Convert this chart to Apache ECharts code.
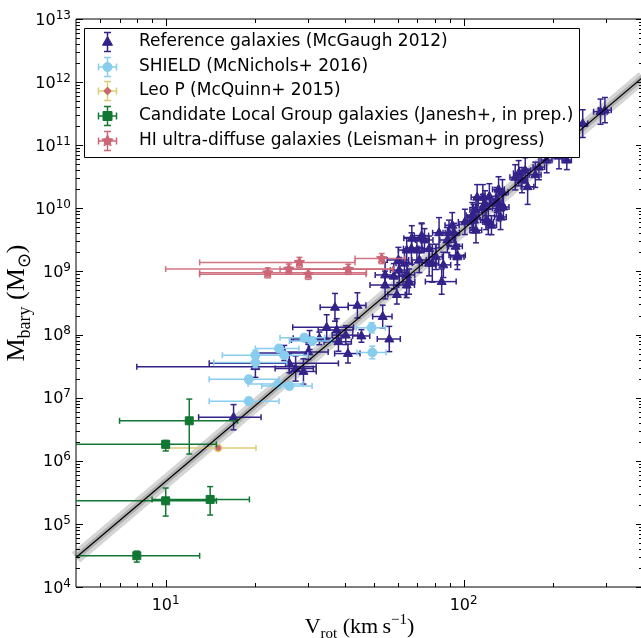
<!DOCTYPE html>
<html><head><meta charset="utf-8">
<script src="https://cdn.jsdelivr.net/npm/echarts@6/dist/echarts.min.js"></script>
<style>html,body{margin:0;padding:0;background:#fff}#c{width:641px;height:638px}</style>
</head><body><div id="c"></div>
<script>
// ---------- DATA ----------
// Reference galaxies (McGaugh 2012): Vrot, Mbary, +/- Vrot error (km/s), +/- log Mbary error (dex)
const refV  = [16.9,20,26,27.3,29,30.1,34.7,37.5,40.2,38.0,40.9,37.0,44.0,53.5,45.4,56.3,54.5,59.7,64.4,65.6,
               60.4,66.8,72.3,73.9,76.6,82.7,78.5,84.4,88.2,95.3,92.9,107,110,118,129,136,107,119,124,164,
               298,288,251,222,209,190,179,174,161,153,157,149,131,122,116,111,135,129,116,108,
               110,121,131,133,101,91.6,89.3,94,72.3,67,64.4,69.7,80.8,85.5,63.3,71,60.8,64.5,58.3,54.5,
               95.3,76.6,30.4,32.8,25];
const refM  = [4.9e6,3.1e7,3.5e7,2.9e7,2.6e7,5.3e7,1.3e8,1.18e8,9.8e7,7.7e7,5.0e7,2.7e8,2.9e8,1.93e8,9.5e7,8.5e7,6.1e8,4.3e8,6.1e8,6.9e8,
               1.52e9,2.3e9,3.35e9,3.15e9,2.3e9,4.1e9,1.35e9,6.9e8,3.15e9,1.8e9,4.1e9,7.8e9,9.4e9,1.2e10,1.35e10,1.05e10,6.5e9,6.5e9,5.4e9,2.2e10,
               3.6e11,3.4e11,2.2e11,5.8e10,6.7e10,5.8e10,4.5e10,3.4e10,4.0e10,3.6e10,2.8e10,3.1e10,2.0e10,1.55e10,1.5e10,1.5e10,1.8e10,1.2e10,1.05e10,7.3e9,
               4.5e9,6.1e9,1.0e10,7.3e9,6.1e9,5.4e9,4.1e9,2.5e9,3.7e9,3.35e9,2.18e9,2.18e9,1.7e9,1.27e9,1.35e9,1.52e9,1.05e9,8.8e8,8.4e8,8.8e8,
               1.7e9,1.35e9,8.2e7,8.7e7,5.1e7];
const refEV = [4,12,12,4,3,5,8,5,4,4,4,4,3,4,3,5,6,4,4,3,
               5,4,4,5,4,4,4,10,5,6,4,5,5,6,6,6,4,5,5,8,
               15,15,10,8,8,8,8,8,7,6,6,6,6,6,5,5,6,6,5,5,
               5,5,6,6,5,5,4,5,4,4,4,4,4,5,4,4,4,4,4,4,
               5,4,4,6,5];
const refEM = [0.2,0.17,0.15,0.2,0.2,0.12,0.2,0.18,0.15,0.15,0.15,0.22,0.2,0.18,0.1,0.2,0.22,0.15,0.2,0.2,
               0.2,0.25,0.23,0.18,0.2,0.24,0.3,0.2,0.2,0.15,0.15,0.2,0.2,0.2,0.2,0.2,0.2,0.15,0.15,0.28,
               0.2,0.2,0.22,0.15,0.2,0.2,0.2,0.2,0.2,0.2,0.2,0.2,0.2,0.2,0.2,0.2,0.2,0.2,0.2,0.2,
               0.2,0.2,0.2,0.2,0.2,0.2,0.2,0.2,0.2,0.2,0.2,0.2,0.2,0.2,0.2,0.2,0.2,0.2,0.2,0.2,
               0.2,0.2,0.15,0.1,0.12];
// SHIELD (McNichols+ 2016)
const shV  = [19.0,19.0,23.9,26.0,20.0,20.0,24.0,25.0,29.2,31.0,49.1,49.4];
const shM  = [8.8e6,1.95e7,1.64e7,1.53e7,4.7e7,3.6e7,6.0e7,4.7e7,8.9e7,7.9e7,1.28e8,5.2e7];
const shEV = [5,5,5,5,4.5,5.5,4,5,5,5,5.5,5.5];
const shEM = [0.06,0.06,0.05,0.05,0.08,0.08,0.05,0.05,0.06,0.06,0.08,0.1];
// Leo P (McQuinn+ 2015)
const leoV = [15.0], leoM = [1.59e6], leoVlo = [10.2], leoVhi = [20.1], leoMlo = [1.45e6], leoMhi = [1.75e6];
// Candidate Local Group galaxies (Janesh+, in prep.)
const lgV   = [12.0,10,10,14.1,8.0];
const lgM   = [4.3e6,1.82e6,2.32e5,2.44e5,3.13e4];
const lgVlo = [7.0,3.0,3.5,9.0,3.0];
const lgVhi = [17.4,14.8,14.8,19.1,13.0];
const lgMlo = [1.28e6,1.43e6,1.33e5,1.38e5,2.48e4];
const lgMhi = [9.5e6,2.1e6,3.7e5,3.9e5,3.7e4];
// HI ultra-diffuse galaxies (Leisman+ in progress)
const udgV   = [28.1,25.9,22.0,30.1,41.0,53.1];
const udgM   = [1.39e9,1.09e9,9.5e8,9.0e8,1.08e9,1.6e9];
const udgVlo = [13.0,10.0,13.0,13.0,24.2,43.2];
const udgVhi = [43.2,57.9,47.2,47.0,57.9,63.5];
const udgEM  = [0.08,0.08,0.08,0.08,0.08,0.08];
// Baryonic Tully-Fisher fit line end points
const fitV = [5, 400];
const fitM = [2.94e4, 1.2e12];
// Axis ticks
const xMajor = [10, 100];
const xMinor = [6,7,8,9,20,30,40,50,60,70,80,90,200,300,400];
const yDecades = [4,5,6,7,8,9,10,11,12,13];
const legendLabels = ['Reference galaxies (McGaugh 2012)','SHIELD (McNichols+ 2016)','Leo P (McQuinn+ 2015)',
  'Candidate Local Group galaxies (Janesh+, in prep.)','HI ultra-diffuse galaxies (Leisman+ in progress)'];

// ---------- helpers ----------
const C_REF='#332288', C_SH='#88CCEE', C_LEO_E='#DDCC77', C_LEO_M='#CC6677', C_LG='#117733', C_UDG='#CC6677';

function markerEl(kind, x, y, s, fill, stroke, lw) {
  const st = {fill: fill, stroke: stroke, lineWidth: lw};
  if (kind === 'tri') return {type:'polygon', shape:{points:[[x,y-s*1.1],[x-s,y+s*0.65],[x+s,y+s*0.65]]}, style:st};
  if (kind === 'circle') return {type:'circle', shape:{cx:x,cy:y,r:s}, style:st};
  if (kind === 'square') return {type:'rect', shape:{x:x-s,y:y-s,width:2*s,height:2*s}, style:st};
  if (kind === 'star') {
    const pts = [];
    for (let i = 0; i < 10; i++) {
      const a = -Math.PI/2 + i*Math.PI/5, r = (i % 2) ? s*0.5 : s;
      pts.push([x + r*Math.cos(a), y + r*Math.sin(a)]);
    }
    return {type:'polygon', shape:{points:pts}, style:st};
  }
  if (kind === 'diamond') return {type:'polygon', shape:{points:[[x,y-s],[x+s,y],[x,y+s],[x-s,y]]}, style:st};
}
function errEls(cx, cy, x0, x1, y0, y1, color, lw, cap, op) {
  const L = (a,b,c,d) => ({type:'line', shape:{x1:a,y1:b,x2:c,y2:d}, style:{stroke:color, lineWidth:lw, opacity:op}});
  const out = [];
  if (x0 != null) {
    out.push(L(x0,cy,x1,cy), L(x0,cy-cap,x0,cy+cap), L(x1,cy-cap,x1,cy+cap));
  }
  out.push(L(cx,y0,cx,y1), L(cx-cap,y0,cx+cap,y0), L(cx-cap,y1,cx+cap,y1));
  return out;
}
function makeRender(st) {
  return function(params, api) {
    const c = api.coord([api.value(0), api.value(1)]);
    const xl = api.coord([api.value(2), api.value(1)])[0];
    const xh = api.coord([api.value(3), api.value(1)])[0];
    const yl = api.coord([api.value(0), api.value(4)])[1];
    const yh = api.coord([api.value(0), api.value(5)])[1];
    const ch = errEls(c[0], c[1], xl, xh, yl, yh, st.ecolor, st.lw, st.cap, st.op);
    ch.push(markerEl(st.marker, c[0], c[1], st.size, st.fill, st.stroke, st.mlw));
    return {type:'group', children: ch};
  };
}
function errSeries(name, data, st, z) {
  return {type:'custom', name:name, coordinateSystem:'cartesian2d', clip:true, z:z, silent:true,
          dimensions:['v','m','vlo','vhi','mlo','mhi'], encode:{x:0, y:1},
          renderItem: makeRender(st), data: data};
}
const dex = (m, e, s) => m * Math.pow(10, s*e);

const refData = refV.map((v,i)=>[v, refM[i], v-refEV[i], v+refEV[i], dex(refM[i],refEM[i],-1), dex(refM[i],refEM[i],1)]);
const shData  = shV.map((v,i)=>[v, shM[i], v-shEV[i], v+shEV[i], dex(shM[i],shEM[i],-1), dex(shM[i],shEM[i],1)]);
const leoData = leoV.map((v,i)=>[v, leoM[i], leoVlo[i], leoVhi[i], leoMlo[i], leoMhi[i]]);
const lgData  = lgV.map((v,i)=>[v, lgM[i], lgVlo[i], lgVhi[i], lgMlo[i], lgMhi[i]]);
const udgData = udgV.map((v,i)=>[v, udgM[i], udgVlo[i], udgVhi[i], dex(udgM[i],udgEM[i],-1), dex(udgM[i],udgEM[i],1)]);
const fitData = fitV.map((v,i)=>[v, fitM[i]]);

const xTickData = xMajor.map(v=>[v, 1e8, 1]).concat(xMinor.map(v=>[v, 1e8, 0]));
const yTickData = [];
yDecades.forEach(d => {
  yTickData.push([10, Math.pow(10,d), 1]);
  if (d < 13) for (let k = 2; k <= 9; k++) yTickData.push([10, k*Math.pow(10,d), 0]);
});

function tickSeries(data, axis) {
  return {type:'custom', coordinateSystem:'cartesian2d', clip:false, z:20, silent:true, encode:{x:0,y:1},
    renderItem: function(params, api) {
      const cs = params.coordSys;
      const len = api.value(2) ? 7 : 4;
      const S = {stroke:'#000', lineWidth:1};
      if (axis === 'x') {
        const x = Math.round(api.coord([api.value(0), 1e8])[0]) + 0.5;
        return {type:'group', children:[
          {type:'line', shape:{x1:x, y1:cs.y+cs.height, x2:x, y2:cs.y+cs.height-len}, style:S},
          {type:'line', shape:{x1:x, y1:cs.y, x2:x, y2:cs.y+len}, style:S}]};
      } else {
        const y = Math.round(api.coord([10, api.value(1)])[1]) + 0.5;
        return {type:'group', children:[
          {type:'line', shape:{x1:cs.x, y1:y, x2:cs.x+len, y2:y}, style:S},
          {type:'line', shape:{x1:cs.x+cs.width, y1:y, x2:cs.x+cs.width-len, y2:y}, style:S}]};
      }
    }, data: data};
}

function powLabel(v) {
  const l = Math.log10(v), e = Math.round(l);
  if (Math.abs(l - e) > 1e-6) return '';
  return '{b|10}{s|' + e + '}';
}
const labRich = {
  b: {fontSize: 16, fontFamily: 'DejaVu Sans', color: '#000', lineHeight: 19, verticalAlign: 'bottom'},
  s: {fontSize: 12, fontFamily: 'DejaVu Sans', color: '#000', verticalAlign: 'top'}
};
const serif = 'Liberation Serif';
function nameRichOf(big, small) {
  return {
    a: {fontSize: big, fontFamily: serif, color:'#000', lineHeight: big*1.3, verticalAlign:'middle'},
    sub: {fontSize: small, fontFamily: serif, color:'#000', verticalAlign:'bottom'},
    sup: {fontSize: small, fontFamily: serif, color:'#000', verticalAlign:'top'}
  };
}

// ---------- legend (graphic) ----------
const legRows = [42, 67, 91, 116, 141];
const legX = 107.5, legTx = 139;
const legendEls = [{type:'rect', shape:{x:84.5, y:28.5, width:495, height:129}, style:{fill:'#fff', stroke:'#000', lineWidth:1}, z:100}];
const legStyles = [
  {kind:'tri', ec:C_REF, fill:C_REF, stroke:C_REF, h:false, s:5},
  {kind:'circle', ec:C_SH, fill:C_SH, stroke:C_SH, h:true, s:4.5},
  {kind:'diamond', ec:C_LEO_E, fill:C_LEO_M, stroke:C_LEO_E, h:true, s:4.5},
  {kind:'square', ec:C_LG, fill:C_LG, stroke:C_LG, h:true, s:4.5},
  {kind:'star', ec:C_UDG, fill:C_UDG, stroke:C_UDG, h:true, s:6}
];
legStyles.forEach((st, i) => {
  const y = legRows[i];
  const els = errEls(legX, y, st.h ? legX-9 : null, legX+9, y-9.5, y+9.5, st.ec, 1.5, 3.5, 1);
  els.push(markerEl(st.kind, legX, y, st.s, st.fill, st.stroke, 1));
  els.forEach(e => { e.z = 101; legendEls.push(e); });
  legendEls.push({type:'text', z:101, style:{text: legendLabels[i], x: legTx, y: y, fontSize: 17,
    fontFamily: 'DejaVu Sans', fill:'#000', verticalAlign:'middle', align:'left'}});
});

const chart = echarts.init(document.getElementById('c'), null, {renderer:'canvas'});
chart.setOption({
  animation: false,
  backgroundColor: '#fff',
  grid: {left: 76, top: 19, width: 567, height: 568, show: true, borderColor: '#000', borderWidth: 1,
         containLabel:false, outerBoundsMode:'none'},
  xAxis: {type:'log', logBase:10, min:5, max:400,
    axisLine:{show:false}, axisTick:{show:false}, splitLine:{show:false},
    axisLabel:{formatter: powLabel, rich: labRich, margin: 8},
    name: '{a|V}{sub|rot}{a| (km\u2009s}{sup|\u22121}{a|)}', nameLocation:'middle', nameGap: 26, nameMoveOverlap: false,
    nameTextStyle:{rich: nameRichOf(22, 15)}},
  yAxis: {type:'log', logBase:10, min:1e4, max:1e13,
    axisLine:{show:false}, axisTick:{show:false}, splitLine:{show:false},
    axisLabel:{formatter: powLabel, rich: labRich, margin: 5},
    name: '{a|M}{sub|bary}{a| (M}{sub|\u2299}{a|)}', nameLocation:'middle', nameGap: 42, nameRotate: 90, nameMoveOverlap: false,
    nameTextStyle:{rich: nameRichOf(26, 18)}},
  series: [
    {type:'line', data: fitData, symbol:'none', silent:true, z:1, lineStyle:{width:13, color:'rgba(150,150,150,0.4)'}},
    {type:'line', data: fitData, symbol:'none', silent:true, z:1, lineStyle:{width:6, color:'rgba(120,120,120,0.4)'}},
    errSeries(legendLabels[0], refData, {ecolor:C_REF, lw:1.5, cap:3, op:1, marker:'tri', size:4.5, fill:C_REF, stroke:C_REF, mlw:1}, 3),
    errSeries(legendLabels[1], shData,  {ecolor:C_SH, lw:1.5, cap:3, op:1, marker:'circle', size:4.5, fill:C_SH, stroke:C_SH, mlw:1}, 4),
    errSeries(legendLabels[2], leoData, {ecolor:C_LEO_E, lw:1.5, cap:3, op:1, marker:'circle', size:3.5, fill:C_LEO_M, stroke:C_LEO_E, mlw:1.5}, 5),
    errSeries(legendLabels[3], lgData,  {ecolor:C_LG, lw:1.5, cap:3, op:1, marker:'square', size:4, fill:C_LG, stroke:C_LG, mlw:1}, 6),
    errSeries(legendLabels[4], udgData, {ecolor:C_UDG, lw:1.5, cap:3, op:0.9, marker:'star', size:5.5, fill:C_UDG, stroke:C_UDG, mlw:1}, 7),
    {type:'line', data: fitData, symbol:'none', silent:true, z:8, lineStyle:{width:1.2, color:'#000'}},
    tickSeries(xTickData, 'x'),
    tickSeries(yTickData, 'y')
  ],
  graphic: legendEls
});
</script></body></html>
